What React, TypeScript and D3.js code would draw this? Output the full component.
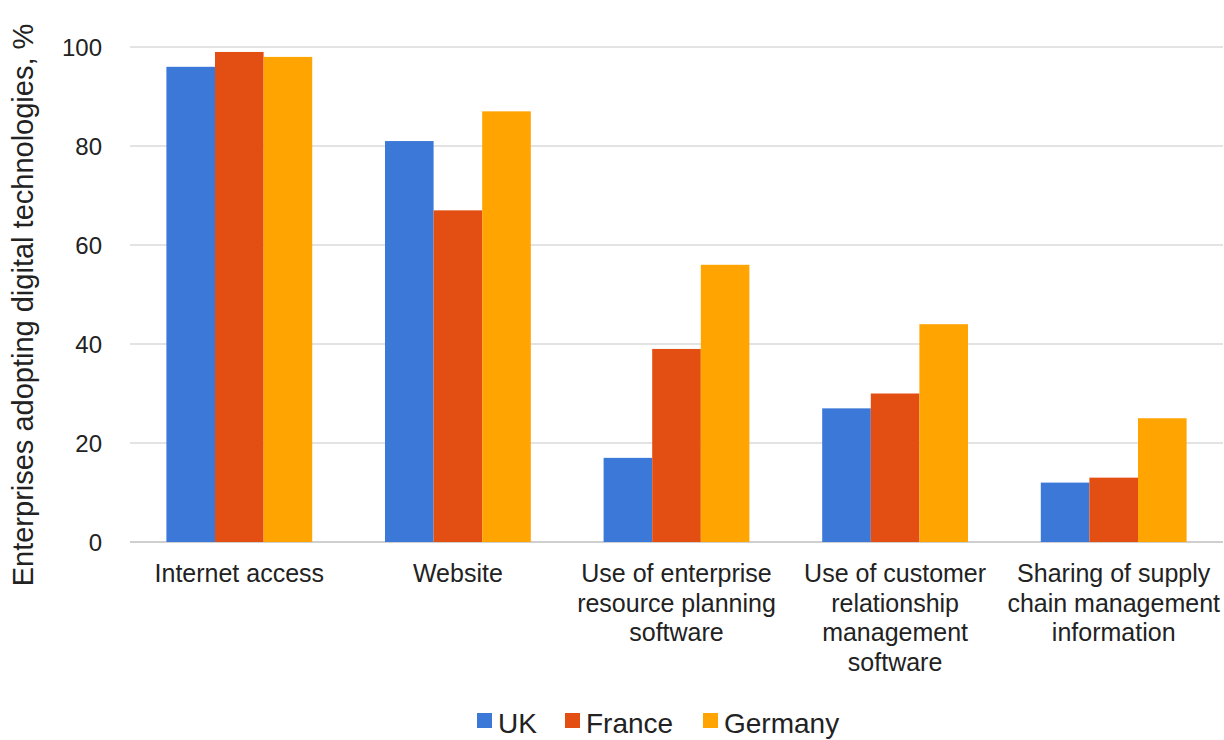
import React, { useEffect, useRef } from 'react';
import * as d3 from 'd3';

const categories = [
    'Internet access',
    'Website',
    'Use of enterprise resource planning software',
    'Use of customer relationship management software',
    'Sharing of supply chain management information',
];
const categoryLines = [
    ['Internet access'],
    ['Website'],
    ['Use of enterprise', 'resource planning', 'software'],
    ['Use of customer', 'relationship', 'management', 'software'],
    ['Sharing of supply', 'chain management', 'information'],
];
const seriesNames = ['UK', 'France', 'Germany'];
const ukValues = [96, 81, 17, 27, 12];
const franceValues = [99, 67, 39, 30, 13];
const germanyValues = [98, 87, 56, 44, 25];
const yTicks = [0, 20, 40, 60, 80, 100];
const colors = ['#3c78d8', '#e34e12', '#ffa400'];

const W = 1224;
const H = 740;
const FONT = '"Liberation Sans", Arial, sans-serif';

const App: React.FC = () => {
    const svgRef = useRef<SVGSVGElement>(null);

    useEffect(() => {
        if (!svgRef.current) return;
        const svg = d3.select(svgRef.current);
        svg.selectAll('*').remove();

        const left = 130, right = 1223, top = 47, bottom = 542;
        const series = [ukValues, franceValues, germanyValues];

        const x = d3.scaleBand<string>()
            .domain(categories)
            .range([left, right])
            .paddingInner(0.333)
            .paddingOuter(0.1665);
        const xs = d3.scaleBand<string>()
            .domain(seriesNames)
            .range([0, x.bandwidth()]);
        const y = d3.scaleLinear().domain([0, 100]).range([bottom, top]);

        // gridlines
        svg.append('g')
            .selectAll('line')
            .data(yTicks)
            .enter()
            .append('line')
            .attr('x1', left)
            .attr('x2', right)
            .attr('y1', d => y(d))
            .attr('y2', d => y(d))
            .attr('stroke', d => (d === 0 ? '#cfcfcf' : '#e3e3e3'))
            .attr('stroke-width', 2);

        // y tick labels
        svg.append('g')
            .selectAll('text')
            .data(yTicks)
            .enter()
            .append('text')
            .attr('x', 102)
            .attr('y', d => y(d))
            .attr('dy', '0.36em')
            .attr('text-anchor', 'end')
            .attr('font-family', FONT)
            .attr('font-size', 24)
            .attr('fill', '#222')
            .text(d => d);

        // y title
        svg.append('text')
            .attr('transform', `translate(33, 305) rotate(-90)`)
            .attr('text-anchor', 'middle')
            .attr('font-family', FONT)
            .attr('font-size', 29)
            .attr('fill', '#222')
            .text('Enterprises adopting digital technologies, %');

        // bars
        series.forEach((vals, si) => {
            svg.append('g')
                .selectAll('rect')
                .data(vals)
                .enter()
                .append('rect')
                .attr('x', (_, i) => (x(categories[i]) as number) + (xs(seriesNames[si]) as number))
                .attr('y', d => y(d))
                .attr('width', xs.bandwidth())
                .attr('height', d => bottom - y(d))
                .attr('fill', colors[si]);
        });

        // category labels
        const labels = svg.append('g')
            .selectAll('text')
            .data(categories)
            .enter()
            .append('text')
            .attr('text-anchor', 'middle')
            .attr('font-family', FONT)
            .attr('font-size', 25)
            .attr('fill', '#222');
        labels.each(function (d, i) {
            const cx = (x(d) as number) + x.bandwidth() / 2;
            d3.select(this)
                .selectAll('tspan')
                .data(categoryLines[i])
                .enter()
                .append('tspan')
                .attr('x', cx)
                .attr('y', (_, j) => 582 + j * 29.6)
                .text(t => t);
        });

        // legend
        const legendX = [477, 565, 703];
        const legend = svg.append('g')
            .selectAll('g')
            .data(seriesNames)
            .enter()
            .append('g')
            .attr('transform', (_, i) => `translate(${legendX[i]}, 0)`);
        legend.append('rect')
            .attr('x', 0)
            .attr('y', 713)
            .attr('width', 15)
            .attr('height', 15)
            .attr('fill', (_, i) => colors[i]);
        legend.append('text')
            .attr('x', 21)
            .attr('y', 733)
            .attr('font-family', FONT)
            .attr('font-size', 28)
            .attr('fill', '#222')
            .text(d => d);
    }, []);

    return (
        <svg ref={svgRef} width={W} height={H} style={{ position: 'absolute', left: 0, top: 0, background: '#fff' }}></svg>
    );
};

export default App;
